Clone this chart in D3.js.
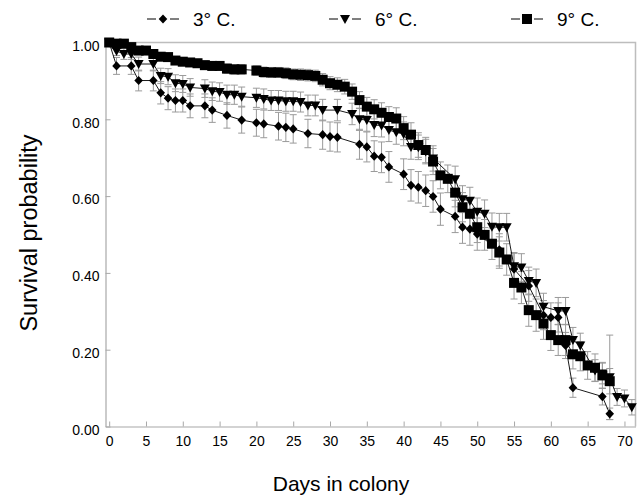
<!DOCTYPE html>
<html>
<head>
<meta charset="utf-8">
<script src="https://cdn.jsdelivr.net/npm/d3@7"></script>
<style>
  body { margin: 0; background: #fff; }
  svg { display: block; font-family: "Liberation Sans", Arial, sans-serif; }
</style>
</head>
<body>
<svg id="chart" width="640" height="497"></svg>
<script>
// 3° C. (diamonds)
const days3 = [0,1,3,4,6,7,8,9,10,11,13,14,16,18,20,21,23,24,25,27,29,30,31,34,35,36,37,38,40,41,42,43,44,45,47,48,49,50,53,55,57,59,60,61,62,63,67,68];
const surv3 = [1.000,0.939,0.939,0.901,0.901,0.869,0.855,0.849,0.849,0.835,0.835,0.824,0.810,0.798,0.791,0.788,0.782,0.779,0.775,0.763,0.760,0.755,0.753,0.735,0.728,0.704,0.701,0.676,0.657,0.628,0.623,0.614,0.599,0.566,0.547,0.519,0.514,0.501,0.460,0.410,0.366,0.290,0.284,0.284,0.211,0.101,0.078,0.033];
const err3 = [0,0.022,0.022,0.027,0.027,0.029,0.030,0.030,0.030,0.031,0.031,0.032,0.033,0.034,0.035,0.036,0.036,0.037,0.037,0.037,0.038,0.038,0.038,0.039,0.039,0.040,0.040,0.040,0.040,0.041,0.041,0.041,0.041,0.042,0.042,0.042,0.042,0.042,0.042,0.041,0.040,0.038,0.038,0.038,0.034,0.025,0.022,0.015];

// 6° C. (down triangles)
const days6 = [0,1,2,3,4,6,7,8,9,10,11,13,14,15,16,17,18,20,21,22,23,24,25,26,27,28,29,31,33,34,35,36,37,38,39,40,41,42,43,44,47,48,49,50,51,52,53,54,55,56,57,58,59,61,62,63,64,66,67,68,69,70,71];
const surv6 = [1.000,0.978,0.970,0.970,0.944,0.944,0.913,0.911,0.894,0.892,0.883,0.880,0.873,0.871,0.864,0.864,0.859,0.856,0.853,0.849,0.849,0.847,0.847,0.845,0.836,0.836,0.824,0.824,0.814,0.800,0.798,0.785,0.784,0.772,0.766,0.762,0.728,0.727,0.716,0.698,0.644,0.592,0.588,0.559,0.554,0.520,0.519,0.519,0.417,0.414,0.379,0.374,0.312,0.301,0.301,0.225,0.211,0.146,0.138,0.128,0.077,0.073,0.050];
const err6 = [0,0.012,0.014,0.014,0.018,0.018,0.020,0.021,0.022,0.022,0.023,0.023,0.024,0.024,0.025,0.025,0.025,0.025,0.026,0.026,0.026,0.026,0.026,0.026,0.027,0.027,0.028,0.028,0.028,0.029,0.029,0.030,0.030,0.030,0.031,0.031,0.032,0.032,0.032,0.033,0.034,0.035,0.035,0.036,0.036,0.036,0.036,0.036,0.036,0.036,0.036,0.036,0.035,0.035,0.035,0.033,0.032,0.028,0.027,0.110,0.022,0.022,0.020];

// 9° C. (squares)
const days9 = [0,1,2,3,4,5,6,7,8,9,10,11,12,13,14,15,16,17,18,20,21,22,23,24,25,26,27,28,29,30,31,32,33,34,35,36,37,38,39,40,41,42,43,44,45,46,47,48,49,50,51,52,53,54,55,56,57,58,59,60,61,62,63,64,65,66,67,68];
const surv9 = [1.000,0.997,0.997,0.988,0.979,0.979,0.970,0.963,0.962,0.953,0.950,0.948,0.946,0.941,0.939,0.939,0.932,0.930,0.930,0.927,0.923,0.922,0.922,0.920,0.917,0.916,0.915,0.913,0.903,0.894,0.890,0.885,0.872,0.850,0.833,0.826,0.817,0.806,0.802,0.777,0.760,0.733,0.720,0.690,0.654,0.645,0.609,0.571,0.554,0.519,0.499,0.476,0.453,0.435,0.374,0.362,0.303,0.290,0.268,0.238,0.225,0.225,0.188,0.183,0.159,0.153,0.133,0.118];
const err9 = [0,0.004,0.004,0.006,0.007,0.007,0.008,0.009,0.009,0.010,0.010,0.010,0.010,0.011,0.011,0.011,0.012,0.012,0.012,0.012,0.013,0.013,0.013,0.014,0.014,0.015,0.015,0.015,0.016,0.017,0.018,0.019,0.020,0.022,0.024,0.025,0.026,0.027,0.028,0.030,0.031,0.032,0.033,0.034,0.035,0.036,0.037,0.038,0.039,0.040,0.040,0.041,0.041,0.041,0.042,0.042,0.042,0.042,0.041,0.040,0.040,0.040,0.038,0.038,0.036,0.036,0.034,0.033];

const seriesLabels = ["3° C.", "6° C.", "9° C."];
const xTicks = [0,5,10,15,20,25,30,35,40,45,50,55,60,65,70];
const yTicks = [0,0.2,0.4,0.6,0.8,1.0];

const series = [
  { label: seriesLabels[0], shape: "diamond", points: days3.map((d, i) => ({ day: d, s: surv3[i], e: err3[i] })) },
  { label: seriesLabels[1], shape: "triangle", points: days6.map((d, i) => ({ day: d, s: surv6[i], e: err6[i] })) },
  { label: seriesLabels[2], shape: "square", points: days9.map((d, i) => ({ day: d, s: surv9[i], e: err9[i] })) }
];

const svg = d3.select("#chart");
const plotLeft = 105.5, plotRight = 635.5, plotTop = 42.5, plotBottom = 426.5;

const x = d3.scaleLinear().domain([-0.5, 71.5]).range([plotLeft, plotRight]);
const y = d3.scaleLinear().domain([0, 1]).range([plotBottom, plotTop]);

const frameColor = "#a8a8a8";

// frame (top and right)
svg.append("path")
  .attr("d", `M${plotLeft},${plotTop}H${plotRight}V${plotBottom}`)
  .attr("fill", "none")
  .attr("stroke", "#bdbdbd")
  .attr("stroke-width", 1.5);

const xAxis = svg.append("g")
  .attr("transform", `translate(0,${plotBottom})`)
  .call(d3.axisBottom(x).tickValues(xTicks).tickSize(-5).tickSizeOuter(0).tickPadding(10).tickFormat(d3.format("d")));

const yAxis = svg.append("g")
  .attr("transform", `translate(${plotLeft},0)`)
  .call(d3.axisLeft(y).tickValues(yTicks).tickSize(-5).tickSizeOuter(0).tickPadding(6).tickFormat(d3.format(".2f")));

[xAxis, yAxis].forEach(g => {
  g.select(".domain").attr("stroke", frameColor).attr("stroke-width", 1.2);
  g.selectAll(".tick line").attr("stroke", frameColor);
  g.selectAll(".tick text")
    .attr("fill", "#000")
    .style("font-size", "14px")
    .style("font-family", "'Liberation Sans', Arial, sans-serif");
});
yAxis.selectAll(".tick text").attr("dy", "0.55em");

// axis titles
svg.append("text")
  .attr("x", 341)
  .attr("y", 491)
  .attr("text-anchor", "middle")
  .style("font-size", "21px")
  .text("Days in colony");

svg.append("text")
  .attr("transform", "translate(37,233) rotate(-90)")
  .attr("text-anchor", "middle")
  .style("font-size", "23.5px")
  .text("Survival probability");

const markerPath = (shape) => {
  if (shape === "diamond") return "M0,-4.6L4.3,0L0,4.6L-4.3,0Z";
  if (shape === "triangle") return "M-5,-4L5,-4L0,5Z";
  return "M-5,-5H5V5H-5Z";
};

const line = d3.line().x(d => x(d.day)).y(d => y(d.s));

// error bars first
series.forEach(sr => {
  const eb = svg.append("g")
    .attr("stroke", "#9a9a9a")
    .attr("stroke-width", 1)
    .attr("fill", "none");
  eb.selectAll("path")
    .data(sr.points.filter(p => p.e > 0))
    .join("path")
    .attr("d", p => {
      const cx = x(p.day), y1 = y(Math.max(0, p.s - p.e)), y2 = y(p.s + p.e);
      return `M${cx},${y1}V${y2}M${cx - 3.5},${y1}H${cx + 3.5}M${cx - 3.5},${y2}H${cx + 3.5}`;
    });
});

series.forEach(sr => {
  svg.append("path")
    .datum(sr.points)
    .attr("d", line)
    .attr("fill", "none")
    .attr("stroke", "#000")
    .attr("stroke-width", 0.9);
});

series.forEach(sr => {
  svg.append("g")
    .selectAll("path")
    .data(sr.points)
    .join("path")
    .attr("transform", p => `translate(${x(p.day)},${y(p.s)})`)
    .attr("d", markerPath(sr.shape))
    .attr("fill", "#000");
});

// legend
const legendX = [163, 345, 527];
const legend = svg.append("g");
series.forEach((sr, i) => {
  const g = legend.append("g").attr("transform", `translate(${legendX[i]},19)`);
  g.append("path")
    .attr("d", "M-16,0H-7M7,0H16")
    .attr("stroke", "#000")
    .attr("stroke-width", 1);
  g.append("path")
    .attr("d", markerPath(sr.shape))
    .attr("fill", "#000");
  g.append("text")
    .attr("x", 30)
    .attr("y", 7)
    .style("font-size", "19px")
    .text(sr.label);
});
</script>
</body>
</html>
